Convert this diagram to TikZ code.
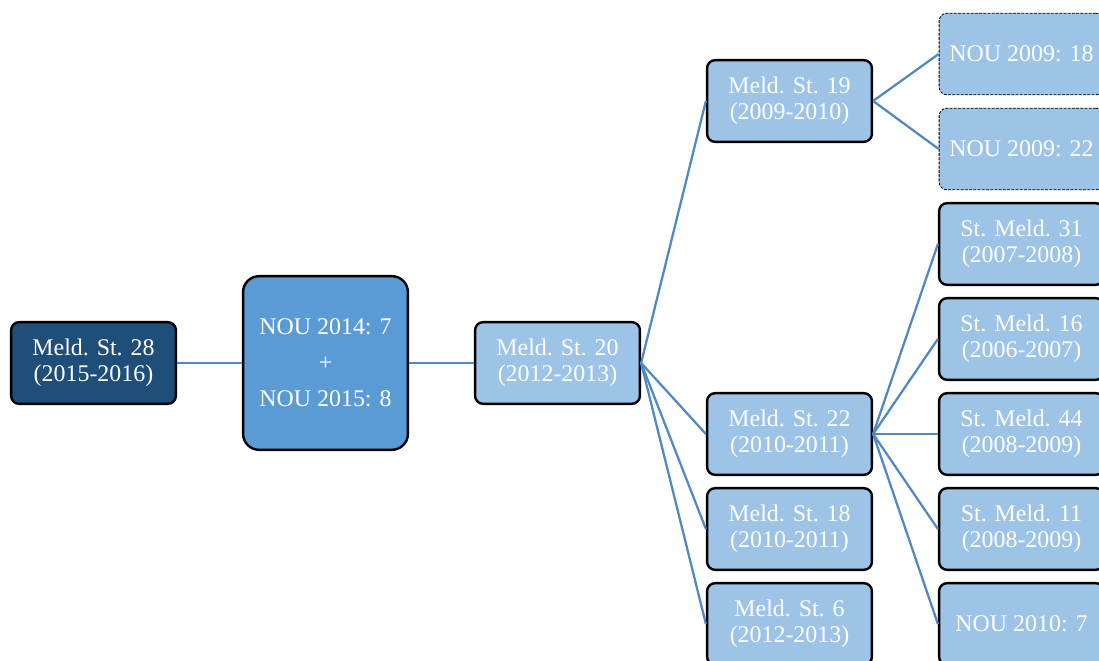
\documentclass[tikz,border=0pt]{standalone}
\usepackage{fontspec}
\setmainfont{Liberation Serif}
\usepackage{tikz}

\definecolor{darkbox}{HTML}{1F4E79}
\definecolor{midbox}{HTML}{5B9BD5}
\definecolor{lightbox}{HTML}{9DC3E6}
\definecolor{linkblue}{HTML}{4F88C4}

\begin{document}
\begin{tikzpicture}[x=0.025cm,y=-0.025cm]
\tikzstyle{every node}+=[inner sep=0pt,text=white,align=center,font=\fontsize{17}{18.5}\selectfont]
\tikzstyle{box}=[draw=black,line width=1.7pt,rounded corners=0.2cm,minimum width=4.12cm,minimum height=2.04cm,fill=lightbox]
\tikzstyle{newbox}=[box,line width=0.6pt,dash pattern=on 2pt off 1pt]
\tikzstyle{link}=[draw=linkblue,line width=1.6pt]
\useasboundingbox (0,0) rectangle (1099,661);
\node [box,fill=darkbox] (ms28) at (93.5,363) {Meld. St. 28\\(2015-2016)};
\node [box,fill=midbox,minimum height=4.34cm,rounded corners=0.4cm] (nou1415) at (325.5,363) {NOU 2014: 7\\[7pt]+\\[7pt]NOU 2015: 8};
\node [box] (ms20) at (557.5,363) {Meld. St. 20\\(2012-2013)};
\node [box] (ms19) at (789.5,101) {Meld. St. 19\\(2009-2010)};
\node [box] (ms22) at (789.5,434) {Meld. St. 22\\(2010-2011)};
\node [box] (ms18) at (789.5,529) {Meld. St. 18\\(2010-2011)};
\node [box] (ms6) at (789.5,624) {Meld. St. 6\\(2012-2013)};
\node [newbox] (nou0918) at (1021.5,54) {NOU 2009: 18};
\node [newbox] (nou0922) at (1021.5,149) {NOU 2009: 22};
\node [box] (sm31) at (1021.5,244) {St. Meld. 31\\(2007-2008)};
\node [box] (sm16) at (1021.5,339) {St. Meld. 16\\(2006-2007)};
\node [box] (sm44) at (1021.5,434) {St. Meld. 44\\(2008-2009)};
\node [box] (sm11) at (1021.5,529) {St. Meld. 11\\(2008-2009)};
\node [box] (nou107) at (1021.5,624) {NOU 2010: 7};
\draw [link] (ms28.east) -- (nou1415.west);
\draw [link] (nou1415.east) -- (ms20.west);
\foreach \n in {ms19,ms22,ms18,ms6}
  \draw [link] (ms20.east) -- (\n.west);
\foreach \n in {nou0918,nou0922}
  \draw [link] (ms19.east) -- (\n.west);
\foreach \n in {sm31,sm16,sm44,sm11,nou107}
  \draw [link] (ms22.east) -- (\n.west);
\end{tikzpicture}
\end{document}
